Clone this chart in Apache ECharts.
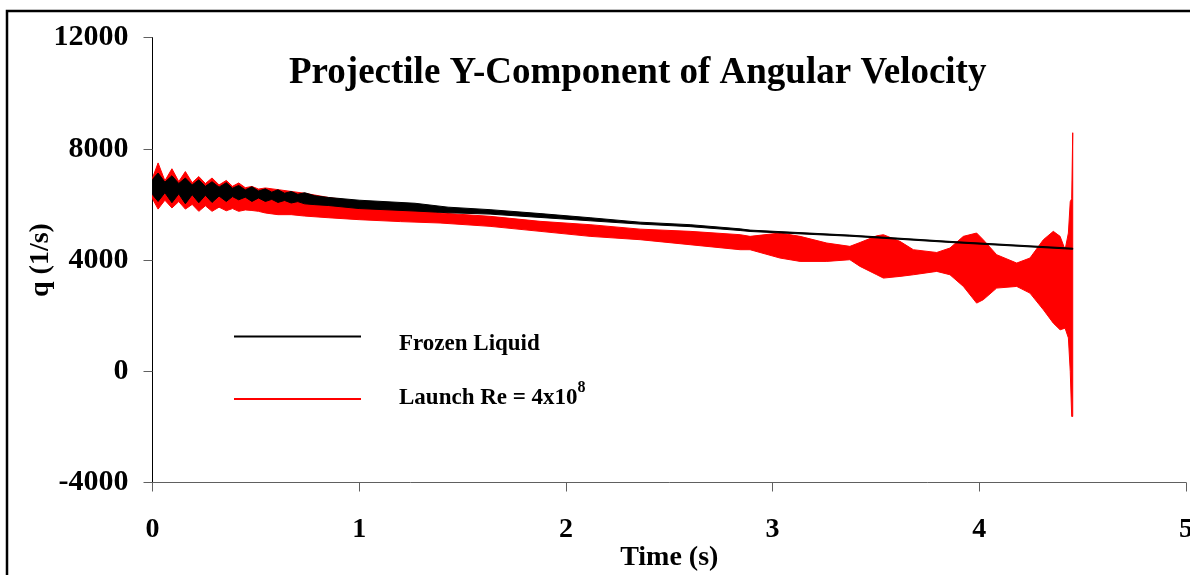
<!DOCTYPE html>
<html>
<head>
<meta charset="utf-8">
<title>Projectile Y-Component of Angular Velocity</title>
<script src="https://cdn.jsdelivr.net/npm/echarts@6/dist/echarts.min.js"></script>
<style>
  html, body { margin: 0; padding: 0; background: #fff; }
  #main { width: 1190px; height: 575px; }
</style>
</head>
<body>
<div id="main"></div>
<script>
// y tick values (1/s)
var yTicks = [-4000, 0, 4000, 8000, 12000];

// Frozen Liquid: envelope of the oscillation
var frozenT  = [0.000, 0.027, 0.060, 0.094, 0.127, 0.159, 0.192, 0.224, 0.256, 0.288, 0.322, 0.357, 0.387, 0.417, 0.449, 0.481, 0.513, 0.546, 0.577, 0.607, 0.639, 0.671, 0.703, 0.736, 0.785, 0.850, 1.000, 1.270, 1.430, 1.633, 1.875, 2.117, 2.359, 2.601, 2.843, 2.891, 3.374, 3.858, 4.452];
var frozenHi = [6900, 7126, 6800, 7030, 6750, 6950, 6700, 6885, 6650, 6815, 6620, 6780, 6580, 6680, 6520, 6635, 6480, 6560, 6440, 6525, 6400, 6465, 6360, 6420, 6310, 6250, 6150, 6040, 5900, 5810, 5670, 5520, 5360, 5270, 5120, 5075, 4895, 4670, 4425];
var frozenLo = [6350, 6105, 6420, 6060, 6380, 6020, 6350, 6060, 6330, 6070, 6300, 6105, 6280, 6165, 6260, 6105, 6230, 6105, 6180, 6070, 6140, 6050, 6100, 6020, 5990, 5960, 5850, 5760, 5700, 5650, 5530, 5410, 5290, 5200, 5060, 5025, 4855, 4630, 4385];

// Launch Re = 4x10^8: envelope of the oscillation
var launchT  = [0.000, 0.027, 0.060, 0.094, 0.127, 0.159, 0.192, 0.224, 0.256, 0.288, 0.322, 0.357, 0.387, 0.417, 0.449, 0.481, 0.513, 0.546, 0.607, 0.671, 0.736, 0.850, 1.000, 1.200, 1.391, 1.633, 1.875, 2.117, 2.359, 2.601, 2.843, 2.891, 3.036, 3.133, 3.262, 3.374, 3.423, 3.504, 3.536, 3.616, 3.681, 3.794, 3.858, 3.923, 3.987, 4.019, 4.084, 4.181, 4.245, 4.310, 4.358, 4.391, 4.415, 4.431, 4.440, 4.447, 4.452];
var launchHi = [6950, 7490, 6850, 7280, 6820, 7180, 6780, 7000, 6750, 6950, 6700, 6860, 6650, 6770, 6600, 6645, 6550, 6590, 6530, 6465, 6400, 6250, 6100, 5950, 5690, 5570, 5390, 5270, 5110, 5030, 4910, 4850, 4970, 4850, 4610, 4490, 4630, 4870, 4910, 4670, 4370, 4270, 4430, 4850, 4970, 4730, 4190, 3890, 4070, 4730, 5030, 4850, 4370, 4970, 6100, 6200, 8576];
var launchLo = [6200, 5830, 6150, 5870, 6100, 5830, 6000, 5750, 5950, 5750, 5900, 5770, 5850, 5750, 5800, 5780, 5750, 5690, 5630, 5630, 5580, 5520, 5450, 5380, 5330, 5210, 5030, 4850, 4730, 4550, 4370, 4370, 4070, 3950, 3950, 4010, 3770, 3470, 3350, 3410, 3470, 3590, 3470, 3050, 2450, 2570, 2990, 3050, 2810, 2210, 1730, 1490, 1550, 1200, 0, -1625, -1625];

var serif = 'Liberation Serif';

function band(ts, hi, lo, color) {
    return function (params, api) {
        var pts = [];
        for (var i = 0; i < ts.length; i++) pts.push(api.coord([ts[i], hi[i]]));
        for (var j = ts.length - 1; j >= 0; j--) pts.push(api.coord([ts[j], lo[j]]));
        return {
            type: 'polygon',
            shape: { points: pts },
            style: { fill: color, stroke: color, lineWidth: 1 }
        };
    };
}

var myChart = echarts.init(document.getElementById('main'));

option = {
    animation: false,
    backgroundColor: '#fff',
    title: {
        text: 'Projectile Y-Component of Angular Velocity',
        left: 289,
        top: 55,
        padding: 0,
        textStyle: { fontFamily: serif, fontWeight: 'bold', fontSize: 37, color: '#000' }
    },
    graphic: [{
        type: 'rect',
        shape: { x: 7, y: 11, width: 1300, height: 700 },
        style: { fill: 'none', stroke: '#000', lineWidth: 2.5 },
        silent: true
    }],
    legend: [{
        data: [{ name: 'Frozen Liquid', icon: 'rect' }],
        left: 234,
        top: 320,
        padding: 0,
        itemWidth: 127,
        itemHeight: 2,
        formatter: function (name) { return '{e|}\n{a|' + name + '}'; },
        textStyle: {
            padding: [0, 0, 0, 33],
            rich: {
                e: { fontSize: 10, lineHeight: 15 },
                a: { fontFamily: serif, fontWeight: 'bold', fontSize: 23, color: '#000', lineHeight: 23 }
            }
        }
    }, {
        data: [{ name: 'Launch Re = 4x10^8', icon: 'rect' }],
        left: 234,
        top: 380,
        padding: 0,
        itemWidth: 127,
        itemHeight: 2,
        formatter: function () { return '{a|Launch Re = 4x10}{s|8}'; },
        textStyle: {
            padding: [0, 0, 8, 33],
            rich: {
                a: { fontFamily: serif, fontWeight: 'bold', fontSize: 23, color: '#000', verticalAlign: 'bottom', lineHeight: 30 },
                s: { fontFamily: serif, fontWeight: 'bold', fontSize: 16, color: '#000', verticalAlign: 'top', lineHeight: 30 }
            }
        }
    }],
    grid: { left: 152.5, right: 4, top: 37.5, bottom: 92.5, outerBoundsMode: 'none', containLabel: false },
    xAxis: {
        type: 'value',
        min: 0,
        max: 5,
        interval: 1,
        name: 'Time (s)',
        nameLocation: 'middle',
        nameGap: 61,
        nameMoveOverlap: false,
        nameTextStyle: { fontFamily: serif, fontWeight: 'bold', fontSize: 28, color: '#000' },
        axisLine: { onZero: false, lineStyle: { color: '#606060', width: 1 } },
        axisTick: { show: true, length: 9, lineStyle: { color: '#606060' } },
        axisLabel: { margin: 33, fontFamily: serif, fontWeight: 'bold', fontSize: 28, color: '#000' },
        splitLine: { show: false }
    },
    yAxis: {
        type: 'value',
        min: yTicks[0],
        max: yTicks[yTicks.length - 1],
        interval: 4000,
        name: 'q (1/s)',
        nameLocation: 'middle',
        nameGap: 98,
        nameMoveOverlap: false,
        nameTextStyle: { fontFamily: serif, fontWeight: 'bold', fontSize: 28, color: '#000' },
        axisLine: { show: true, lineStyle: { color: '#000', width: 1 } },
        axisTick: { show: true, length: 9, lineStyle: { color: '#606060' } },
        axisLabel: {
            margin: 24, fontFamily: serif, fontWeight: 'bold', fontSize: 30, color: '#000',
            formatter: function (v) { return String(v); }
        },
        splitLine: { show: false }
    },
    series: [{
        name: 'Launch Re = 4x10^8',
        type: 'custom',
        itemStyle: { color: '#ff0000' },
        renderItem: band(launchT, launchHi, launchLo, '#ff0000'),
        data: [[launchT[0], launchHi[0]]],
        clip: true,
        z: 2
    }, {
        name: 'Frozen Liquid',
        type: 'custom',
        itemStyle: { color: '#000000' },
        renderItem: band(frozenT, frozenHi, frozenLo, '#000000'),
        data: [[frozenT[0], frozenHi[0]]],
        clip: true,
        z: 3
    }]
};

myChart.setOption(option);
</script>
</body>
</html>
